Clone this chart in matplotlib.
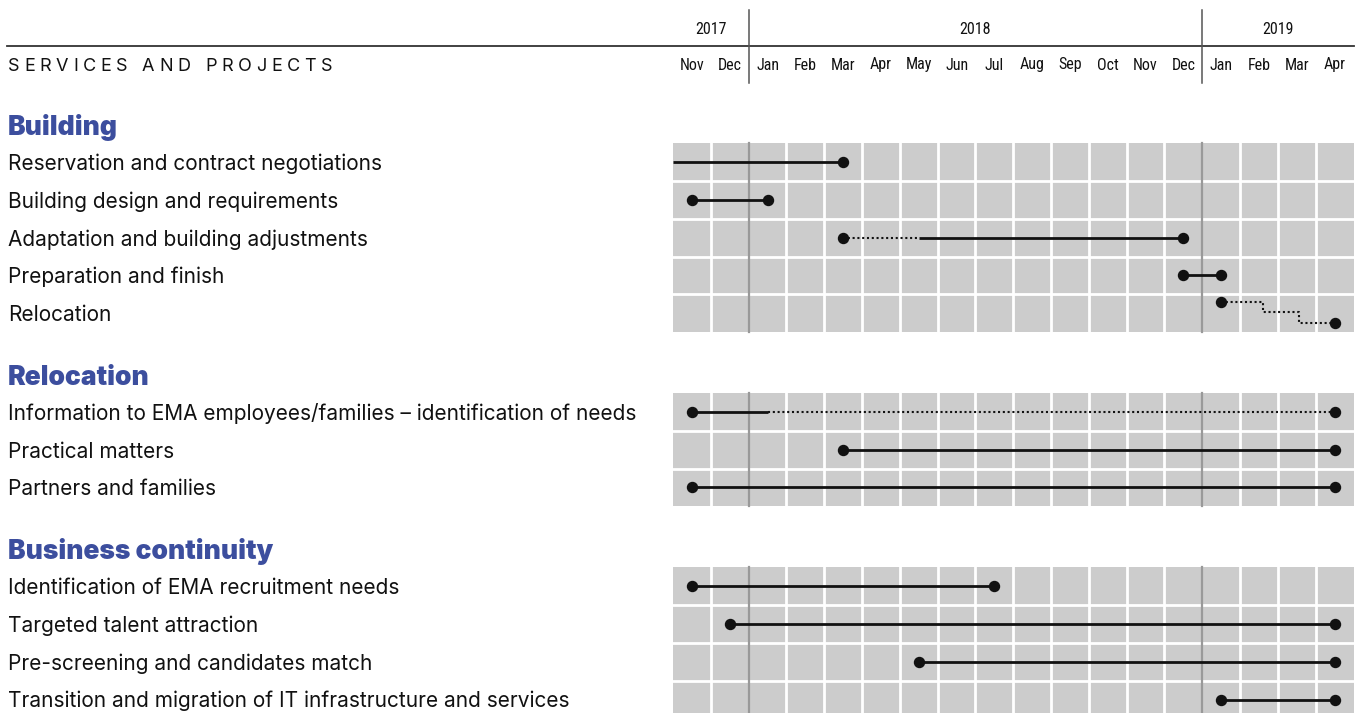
import matplotlib
matplotlib.use('Agg')
import matplotlib.pyplot as plt
import matplotlib.transforms as mtransforms
from matplotlib.patches import Rectangle
from matplotlib import font_manager

# month columns, Nov 2017 .. Apr 2019 (index 0 = Nov 2017)
months = ['Nov', 'Dec', 'Jan', 'Feb', 'Mar', 'Apr', 'May', 'Jun', 'Jul',
          'Aug', 'Sep', 'Oct', 'Nov', 'Dec', 'Jan', 'Feb', 'Mar', 'Apr']
years = ['2017', '2018', '2019']
year_first = [0, 2, 14]
year_last = [1, 13, 17]

groups = ['Building', 'Relocation', 'Business continuity']

building_tasks = ['Reservation and contract negotiations',
                  'Building design and requirements',
                  'Adaptation and building adjustments',
                  'Preparation and finish',
                  'Relocation']
# (start, end, style) in month index
building_bars = [[(-0.5, 4, 'solid')],
                 [(0, 2, 'solid')],
                 [(4, 6, 'dotted'), (6, 13, 'solid')],
                 [(13, 14, 'solid')],
                 []]
building_dots = [[4], [0, 2], [4, 13], [13, 14], []]

# the building "Relocation" task steps down through Jan-Apr 2019
step_row = 4
step_x = [14, 15.1, 16.05, 17]
step_dy = [-0.29, -0.04, 0.27, 0.27]

relocation_tasks = ['Information to EMA employees/families \u2013 identification of needs',
                    'Practical matters',
                    'Partners and families']
relocation_bars = [[(0, 2, 'solid'), (2, 17, 'dotted')],
                   [(4, 17, 'solid')],
                   [(0, 17, 'solid')]]
relocation_dots = [[0, 17], [4, 17], [0, 17]]

business_tasks = ['Identification of EMA recruitment needs',
                  'Targeted talent attraction',
                  'Pre-screening and candidates match',
                  'Transition and migration of IT infrastructure and services']
business_bars = [[(0, 8, 'solid')],
                 [(1, 17, 'solid')],
                 [(6, 17, 'solid')],
                 [(14, 17, 'solid')]]
business_dots = [[0, 8], [1, 17], [6, 17], [14, 17]]

all_tasks = [building_tasks, relocation_tasks, business_tasks]
all_bars = [building_bars, relocation_bars, business_bars]
all_dots = [building_dots, relocation_dots, business_dots]

# fonts
available = {f.name for f in font_manager.fontManager.ttflist}


def pick(*names):
    for n in names:
        if n in available:
            return n
    return 'DejaVu Sans'


NARROW = pick('Liberation Sans Narrow', 'Roboto Condensed', 'Liberation Sans')
BODY = pick('Inter', 'Lato', 'DejaVu Sans')
HEAVY = pick('Inter', 'Lato', 'DejaVu Sans')

GRID = '#cccccc'
DIVIDER = '#999999'
INK = '#111111'
BLUE = '#3c4e9e'

# layout: one month column = one row = COL pixels
W, H = 1362, 713
COL = 37.8
X0_PX = 692    # centre of first month column
Y0_PX = 162    # centre of first task row
GAP = 2.61     # rows between last row of a group and first row of next

fig = plt.figure(figsize=(W / 100, H / 100), dpi=100)
ax = fig.add_axes([0, 0, 1, 1])
ax.set_xlim(-X0_PX / COL, (W - X0_PX) / COL)
ax.set_ylim((H - Y0_PX) / COL, -Y0_PX / COL)
ax.axis('off')


def py(px):
    return (px - Y0_PX) / COL


def px_x(px):
    return (px - X0_PX) / COL


left = mtransforms.blended_transform_factory(fig.transFigure, ax.transData)
n_m = len(months)

# header
ax.plot([px_x(7), n_m - 0.5], [py(46), py(46)], color='#333333', lw=1.3, zorder=2)
for c in year_first[1:]:
    ax.plot([c - 0.5, c - 0.5], [py(10), py(83)], color='#555555', lw=1.1, zorder=2)
for name, a, b in zip(years, year_first, year_last):
    ax.text((a + b) / 2, py(30), name, ha='center', va='center',
            fontsize=11.5, family=NARROW, color=INK)
for i, m in enumerate(months):
    ax.text(i, py(65), m, ha='center', va='center', fontsize=11.5,
            family=NARROW, color=INK)

# letter-spaced column title
title = 'SERVICES AND PROJECTS'
renderer = fig.canvas.get_renderer()
tmp = [fig.text(0, 0, ch if ch != ' ' else 'I', fontsize=13, family=BODY) for ch in title]
widths = [t.get_window_extent(renderer).width for t in tmp]
for t in tmp:
    t.remove()
widths = [w if ch != ' ' else w * 1.1 for w, ch in zip(widths, title)]
track = (332 - 8 - sum(widths)) / (len(title) - 1)
x = 8
for ch, w in zip(title, widths):
    if ch != ' ':
        ax.text(x / W, py(71), ch, transform=left, ha='left', va='baseline',
                fontsize=13, family=BODY, color=INK)
    x += w + track

start = 0.0
for g, name in enumerate(groups):
    tasks = all_tasks[g]
    rows = [start + k for k in range(len(tasks))]

    ax.text(8 / W, rows[0] - 0.72, name, transform=left, ha='left', va='baseline',
            fontsize=19, family=HEAVY, weight='black', color=BLUE)

    # grid
    for r in rows:
        ax.add_patch(Rectangle((-0.5, r - 0.5), n_m, 1, fc=GRID, ec='none', zorder=1))
    top, bottom = rows[0] - 0.5, rows[-1] + 0.5
    for c in range(1, n_m):
        if c not in year_first:
            ax.plot([c - 0.5, c - 0.5], [top, bottom], color='white', lw=2.0, zorder=1.5)
    for r in rows[:-1]:
        ax.plot([-0.5, n_m - 0.5], [r + 0.5, r + 0.5], color='white', lw=2.0, zorder=1.5)
    for c in year_first[1:]:
        ax.plot([c - 0.5, c - 0.5], [top, bottom], color=DIVIDER, lw=1.6, zorder=1.6)

    for k, (task, r) in enumerate(zip(tasks, rows)):
        ax.text(8 / W, r + 0.21, task, transform=left, ha='left', va='baseline',
                fontsize=15, family=BODY, color=INK)
        for a, b, style in all_bars[g][k]:
            if style == 'solid':
                ax.plot([a, b], [r, r], color=INK, lw=2.0, solid_capstyle='butt', zorder=3)
            else:
                ax.plot([a, b], [r, r], color=INK, lw=1.5, ls=(0, (1, 1.3)), zorder=3)
        d = all_dots[g][k]
        if d:
            ax.plot(d, [r] * len(d), 'o', ms=7.2, color=INK, zorder=4)
        if g == 0 and k == step_row:
            sy = [r + dy for dy in step_dy]
            ax.plot(step_x, sy, drawstyle='steps-post', color=INK, lw=1.5,
                    ls=(0, (1, 1.3)), zorder=3)
            ax.plot([step_x[0], step_x[-1]], [sy[0], sy[-1]], 'o', ms=7.2,
                    color=INK, zorder=4)

    start = rows[-1] + GAP

fig.savefig('out.png', dpi=100)
